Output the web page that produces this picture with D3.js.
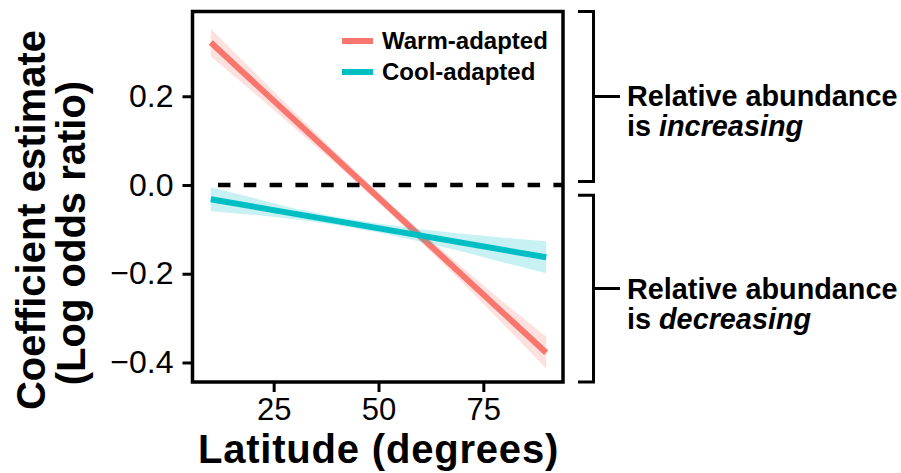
<!DOCTYPE html>
<html>
<head>
<meta charset="utf-8">
<script src="https://cdn.jsdelivr.net/npm/d3@7"></script>
<style>
  body { margin: 0; background: #fff; }
  svg text { font-family: "Liberation Sans", Arial, sans-serif; }
</style>
</head>
<body>
<div id="chart"></div>
<script>
/* Data */
const groups = ["Warm-adapted", "Cool-adapted"];
const colors = ["#F8766D", "#00BFC4"];

const fitLat = [10, 90];
const warmFit = [0.321, -0.378];
const coolFit = [-0.032, -0.163];

const bandLat = [10, 20, 30, 40, 50, 60, 70, 80, 90];
const warmLower = [0.290, 0.210, 0.128, 0.046, -0.040, -0.128, -0.220, -0.316, -0.414];
const warmUpper = [0.352, 0.258, 0.164, 0.072, -0.018, -0.104, -0.186, -0.266, -0.342];
const coolLower = [-0.059, -0.067, -0.077, -0.090, -0.107, -0.128, -0.150, -0.175, -0.199];
const coolUpper = [-0.005, -0.029, -0.053, -0.072, -0.087, -0.100, -0.110, -0.119, -0.127];

const xTicks = [25, 50, 75];
const yTicks = [0.2, 0.0, -0.2, -0.4];

const annotations = [
  ["Relative abundance", "is ", "increasing"],
  ["Relative abundance", "is ", "decreasing"]
];

/* Chart */
const width = 901, height = 473;
const svg = d3.select("#chart").append("svg")
  .attr("width", width)
  .attr("height", height);

const x = d3.scaleLinear().domain([6, 94]).range([194, 563]);
const y = d3.scaleLinear().domain([-0.444, 0.391]).range([382, 11.5]);

const series = [
  { fit: warmFit, lo: warmLower, hi: warmUpper },
  { fit: coolFit, lo: coolLower, hi: coolUpper }
];

const area = d3.area()
  .x((d, i) => x(bandLat[i]))
  .y0(d => y(d[0]))
  .y1(d => y(d[1]));

const line = d3.line()
  .x((d, i) => x(fitLat[i]))
  .y(d => y(d));

series.forEach((s, k) => {
  svg.append("path")
    .datum(s.lo.map((v, i) => [v, s.hi[i]]))
    .attr("d", area)
    .attr("fill", colors[k])
    .attr("fill-opacity", 0.22);
  svg.append("path")
    .datum(s.fit)
    .attr("d", line)
    .attr("fill", "none")
    .attr("stroke", colors[k])
    .attr("stroke-width", 6);
});

// zero line (first dash hidden behind the border in the original)
svg.append("line")
  .attr("x1", x.range()[0] + 24).attr("x2", x.range()[1])
  .attr("y1", y(0)).attr("y2", y(0))
  .attr("stroke", "#000")
  .attr("stroke-width", 4.5)
  .attr("stroke-dasharray", "12.5,13.3");

// panel border
svg.append("rect")
  .attr("x", x.range()[0] - 1.5)
  .attr("y", y.range()[1])
  .attr("width", x.range()[1] - x.range()[0] + 1.5)
  .attr("height", y.range()[0] - y.range()[1])
  .attr("fill", "none")
  .attr("stroke", "#000")
  .attr("stroke-width", 3.5);

// axes
const xAxis = svg.append("g")
  .attr("transform", `translate(0,${y.range()[0]})`)
  .call(d3.axisBottom(x).tickValues(xTicks).tickSize(10).tickPadding(6));
const yAxis = svg.append("g")
  .attr("transform", `translate(${x.range()[0] - 1.5},0)`)
  .call(d3.axisLeft(y).tickValues(yTicks).tickSize(10).tickPadding(9)
    .tickFormat(d => d3.format(".1f")(d).replace("-", "\u2212")));

[xAxis, yAxis].forEach(g => {
  g.select(".domain").remove();
  g.selectAll(".tick line").attr("stroke", "#000").attr("stroke-width", 3);
  g.selectAll(".tick text")
    .attr("fill", "#000")
    .attr("font-size", "31px")
    .attr("font-family", "Liberation Sans, Arial, sans-serif");
});
yAxis.selectAll(".tick text").attr("font-size", "32px");

// axis titles
svg.append("text")
  .attr("x", (x.range()[0] + x.range()[1]) / 2)
  .attr("y", 463)
  .attr("text-anchor", "middle")
  .attr("font-weight", "bold")
  .attr("font-size", "40px")
  .attr("letter-spacing", "0.8px")
  .text("Latitude (degrees)");

svg.append("text")
  .attr("transform", "translate(45,220) rotate(-90)")
  .attr("text-anchor", "middle")
  .attr("font-weight", "bold")
  .attr("font-size", "40px")
  .text("Coefficient estimate");

svg.append("text")
  .attr("transform", "translate(85,233) rotate(-90)")
  .attr("text-anchor", "middle")
  .attr("font-weight", "bold")
  .attr("font-size", "40px")
  .text("(Log odds ratio)");

/* Legend */
const legend = svg.append("g").attr("transform", "translate(342,41)");
groups.forEach((g, i) => {
  const row = legend.append("g").attr("transform", `translate(0,${i * 31})`);
  row.append("line")
    .attr("x1", 0).attr("x2", 31)
    .attr("stroke", colors[i])
    .attr("stroke-width", 6);
  row.append("text")
    .attr("x", 40)
    .attr("y", 8)
    .attr("font-weight", "bold")
    .attr("font-size", "24px")
    .text(g);
});

/* Brackets */
const brackets = [[0.008, y.domain()[1]], [y.domain()[0], -0.023]];
brackets.forEach((b, i) => {
  const y0 = y(b[1]), y1 = y(b[0]), mid = (y0 + y1) / 2;
  svg.append("path")
    .attr("d", `M578,${y0}H593.5V${y1}H578M593.5,${mid}H620`)
    .attr("fill", "none")
    .attr("stroke", "#000")
    .attr("stroke-width", 3);
  const t = svg.append("text")
    .attr("x", 627)
    .attr("y", mid + 10)
    .attr("font-weight", "bold")
    .attr("font-size", "28.8px");
  t.append("tspan").text(annotations[i][0]);
  t.append("tspan").attr("x", 627).attr("dy", 30).text(annotations[i][1]);
  t.append("tspan").attr("font-style", "italic").text(annotations[i][2]);
});
</script>
</body>
</html>
